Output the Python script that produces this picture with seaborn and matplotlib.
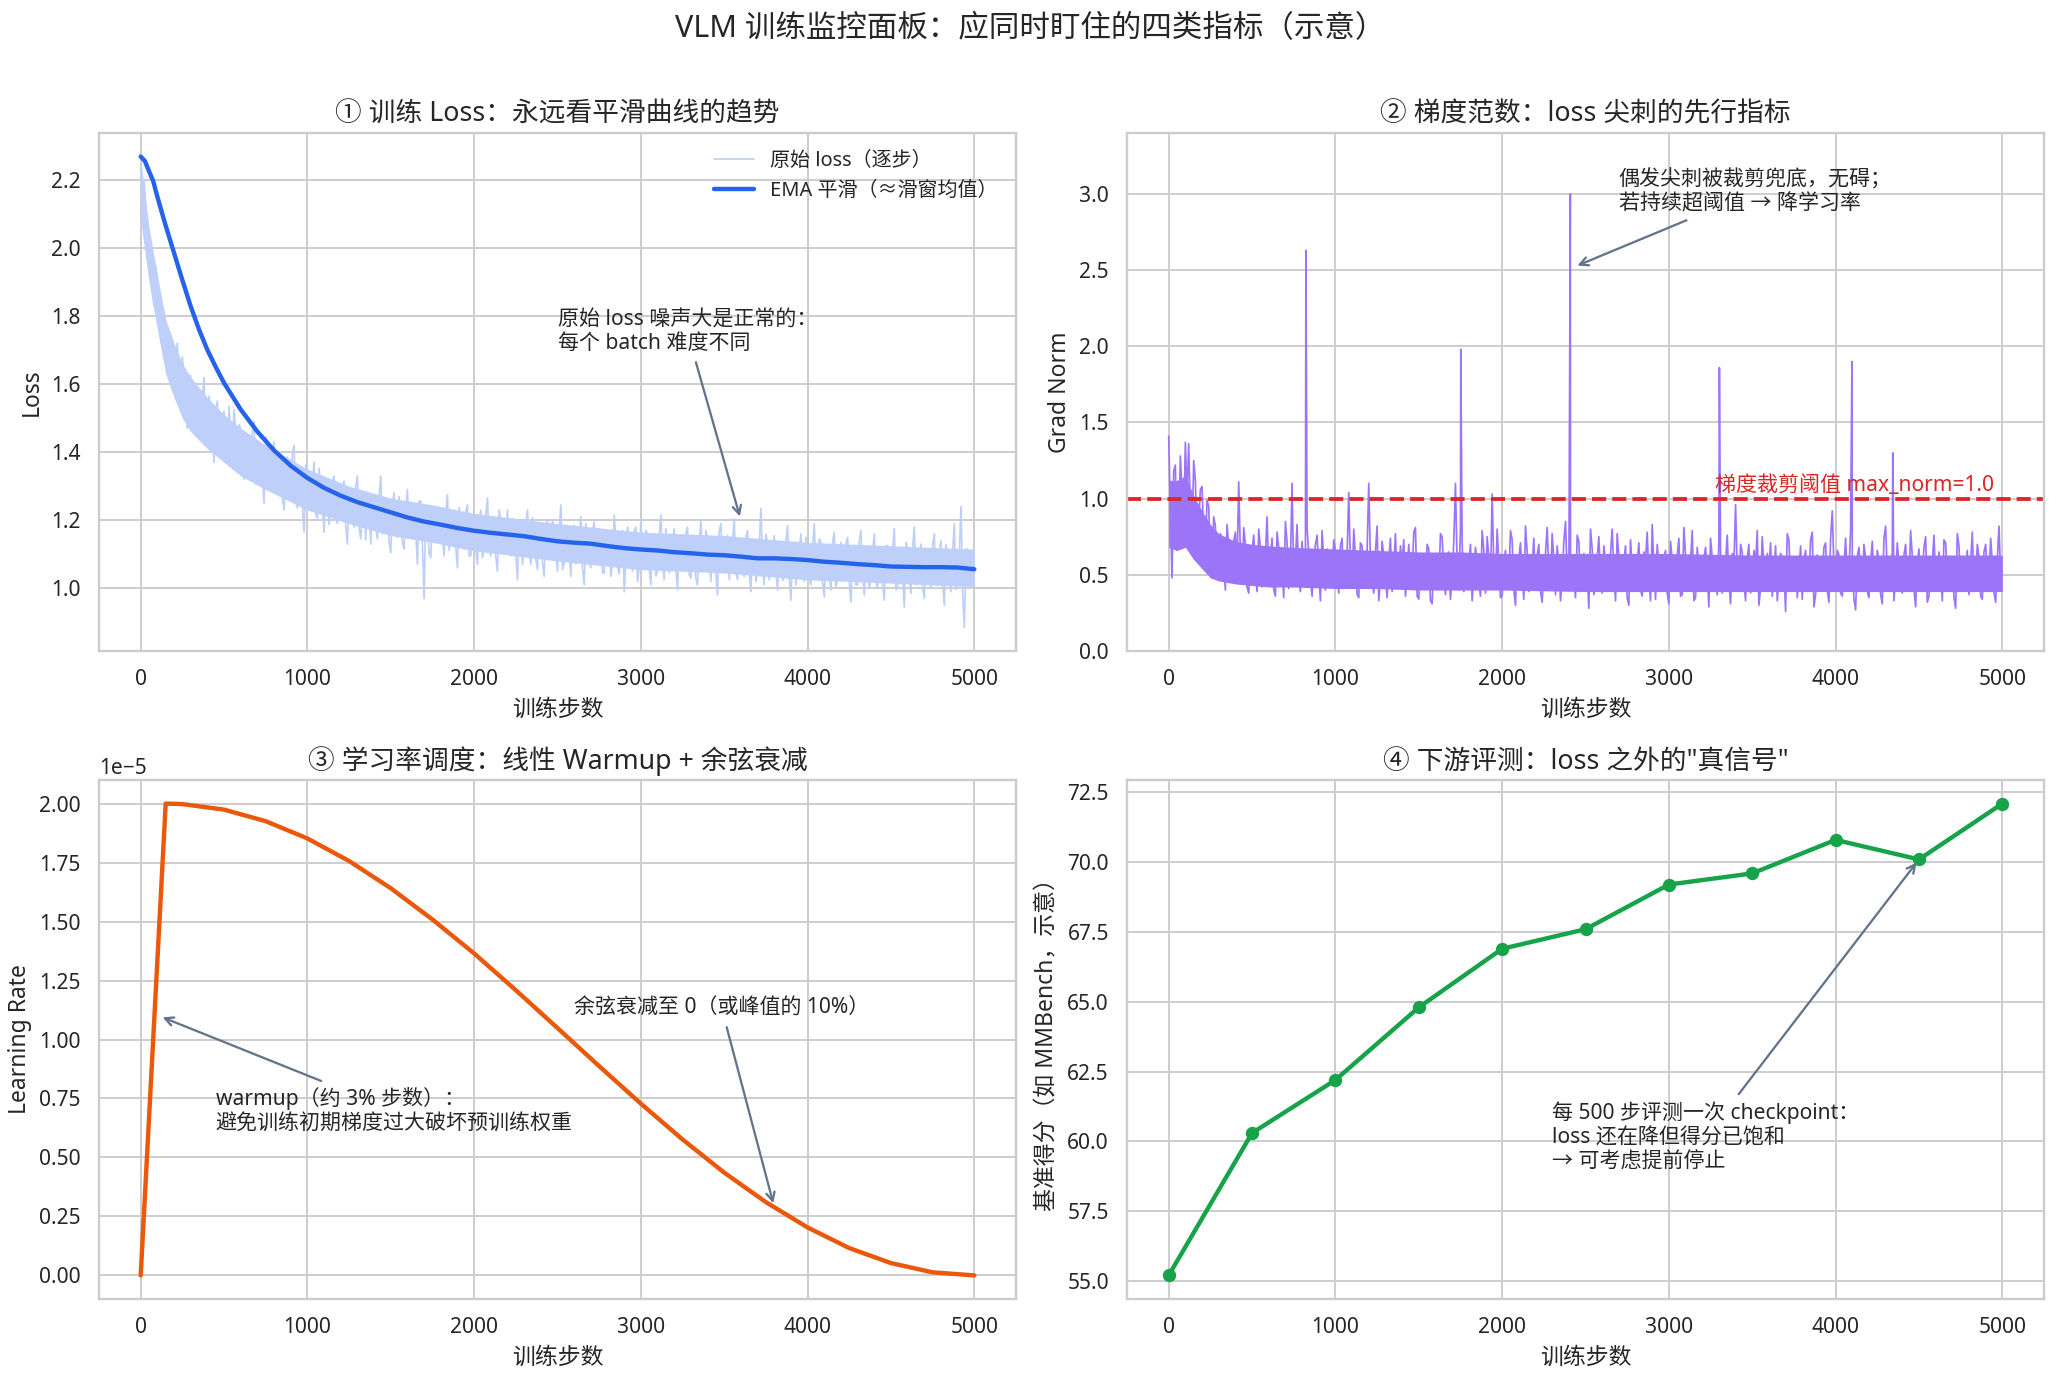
import numpy as np
import pandas as pd
import matplotlib
matplotlib.use("Agg")
import matplotlib.pyplot as plt
import seaborn as sns

# ---------------- data ----------------
# raw per-step loss, read at even 20-step marks ...
raw_steps = list(range(0, 5001, 20))
raw_loss = [
    2.25, 2.20, 1.97, 2.00, 1.83, 1.91, 1.77, 1.81, 1.63, 1.71,
    1.60, 1.72, 1.57, 1.62, 1.47, 1.625, 1.525, 1.58, 1.44, 1.62,
    1.45, 1.53, 1.37, 1.55, 1.445, 1.52, 1.37, 1.45, 1.525, 1.365,
    1.47, 1.32, 1.43, 1.355, 1.49, 1.32, 1.395, 1.25, 1.43, 1.325,
    1.43, 1.295, 1.36, 1.23, 1.385, 1.29, 1.42, 1.235, 1.34, 1.165,
    1.35, 1.245, 1.37, 1.205, 1.30, 1.165, 1.31, 1.235, 1.33, 1.19,
    1.22, 1.315, 1.13, 1.275, 1.18, 1.33, 1.145, 1.245, 1.28, 1.13,
    1.27, 1.145, 1.33, 1.17, 1.235, 1.105, 1.28, 1.15, 1.21, 1.115,
    1.29, 1.165, 1.24, 1.07, 1.255, 0.97, 1.20, 1.09, 1.24, 1.135,
    1.22, 1.095, 1.275, 1.15, 1.23, 1.06, 1.195, 1.115, 1.245, 1.095,
    1.195, 1.07, 1.23, 1.12, 1.265, 1.095, 1.175, 1.05, 1.20, 1.12,
    1.23, 1.095, 1.155, 1.025, 1.20, 1.11, 1.23, 1.07, 1.175, 1.055,
    1.185, 1.035, 1.20, 1.11, 1.17, 1.05, 1.245, 1.075, 1.145, 1.035,
    1.185, 1.08, 1.21, 1.01, 1.15, 1.06, 1.195, 1.095, 1.165, 1.045,
    1.135, 1.035, 1.215, 1.065, 1.15, 0.99, 1.18, 1.08, 1.17, 1.02,
    1.20, 1.07, 1.16, 1.01, 1.14, 1.05, 1.215, 1.025, 1.125, 1.055,
    1.175, 0.995, 1.145, 1.07, 1.18, 1.03, 1.11, 1.01, 1.20, 1.06,
    1.15, 1.02, 1.13, 0.98, 1.19, 1.045, 1.155, 1.075, 1.205, 1.025,
    1.135, 1.035, 1.17, 0.99, 1.11, 1.05, 1.235, 1.01, 1.135, 1.055,
    1.155, 0.995, 1.115, 1.035, 1.185, 0.965, 1.135, 1.06, 1.16, 1.02,
    1.11, 1.01, 1.19, 1.035, 1.135, 0.975, 1.095, 0.995, 1.165, 1.025,
    1.135, 1.04, 1.15, 0.96, 1.11, 1.01, 1.17, 0.98, 1.09, 1.03,
    1.16, 1.00, 1.11, 0.965, 1.125, 1.045, 1.175, 1.005, 1.095, 0.945,
    1.115, 0.985, 1.18, 1.02, 1.13, 0.97, 1.09, 1.00, 1.16, 1.01,
    1.14, 0.95, 1.10, 0.99, 1.19, 1.03, 1.24, 0.885, 1.115, 1.015, 1.075,
]
# ... and at the odd 10-step marks in between
raw_steps_odd = list(range(10, 5000, 20))
raw_loss_odd = [
    2.13, 2.12, 2.01, 1.87, 1.945, 1.805, 1.82, 1.67, 1.755, 1.645,
    1.685, 1.57, 1.68, 1.52, 1.59, 1.46, 1.60, 1.505, 1.565, 1.435,
    1.565, 1.455, 1.525, 1.39, 1.48, 1.405, 1.535, 1.40, 1.46, 1.48,
    1.355, 1.445, 1.377, 1.462, 1.305, 1.428, 1.332, 1.445, 1.307, 1.382,
    1.307, 1.402, 1.265, 1.357, 1.302, 1.395, 1.257, 1.342, 1.237, 1.362,
    1.237, 1.312, 1.217, 1.352, 1.237, 1.312, 1.187, 1.312, 1.21, 1.27,
    1.297, 1.182, 1.277, 1.202, 1.30, 1.177, 1.245, 1.142, 1.27, 1.25,
    1.177, 1.272, 1.16, 1.237, 1.135, 1.252, 1.18, 1.27, 1.137, 1.235,
    1.147, 1.232, 1.16, 1.257, 1.125, 1.232, 1.10, 1.21, 1.137, 1.235,
    1.147, 1.225, 1.112, 1.21, 1.12, 1.237, 1.145, 1.225, 1.095, 1.195,
    1.112, 1.20, 1.09, 1.217, 1.125, 1.205, 1.092, 1.23, 1.11, 1.17,
    1.107, 1.205, 1.095, 1.172, 1.07, 1.19, 1.11, 1.207, 1.085, 1.175,
    1.075, 1.182, 1.09, 1.20, 1.10, 1.167, 1.055, 1.185, 1.105, 1.175,
    1.072, 1.15, 1.06, 1.19, 1.08, 1.167, 1.085, 1.175, 1.045, 1.155,
    1.165, 1.075, 1.145, 1.042, 1.17, 1.08, 1.15, 1.05, 1.18, 1.06,
    1.07, 1.17, 1.058, 1.148, 1.036, 1.156, 1.075, 1.175, 1.045, 1.135,
    1.055, 1.145, 1.073, 1.16, 1.04, 1.15, 1.03, 1.13, 1.06, 1.17,
    1.07, 1.15, 1.04, 1.168, 1.055, 1.125, 1.025, 1.145, 1.045, 1.135,
    1.045, 1.152, 1.05, 1.14, 1.02, 1.13, 1.06, 1.158, 1.025, 1.115,
    1.045, 1.135, 1.023, 1.142, 1.032, 1.12, 1.01, 1.11, 1.05, 1.15,
    1.03, 1.12, 1.048, 1.145, 1.015, 1.125, 1.035, 1.135, 1.002, 1.10,
    1.032, 1.13, 1.02, 1.11, 1.01, 1.14, 1.04, 1.12, 1.00, 1.11,
    1.02, 1.098, 1.007, 1.126, 1.025, 1.115, 0.995, 1.105, 1.035, 1.135,
    1.025, 1.122, 1.01, 1.09, 1.00, 1.11, 1.02, 1.13, 1.01, 1.10,
    1.01, 1.128, 1.018, 1.107, 0.997, 1.096, 0.986, 1.115, 1.025, 1.105,
]

# dense core of the per-step traces (where the trace is visually solid)
band_steps = [0, 50, 100, 150, 200, 250, 300, 400, 500, 600, 750, 1000,
              1250, 1500, 1750, 2000, 2500, 3000, 3500, 4000, 4500, 5000]
loss_band_lo = [2.08, 1.90, 1.76, 1.63, 1.56, 1.50, 1.46, 1.41, 1.37, 1.33,
                1.29, 1.23, 1.19, 1.155, 1.135, 1.11, 1.08, 1.055, 1.045,
                1.025, 1.015, 1.005]
loss_band_hi = [2.26, 2.06, 1.92, 1.79, 1.72, 1.66, 1.62, 1.56, 1.51, 1.47,
                1.42, 1.35, 1.30, 1.265, 1.245, 1.22, 1.19, 1.165, 1.155,
                1.135, 1.125, 1.115]

ema_steps = [0, 25, 50, 75, 100, 150, 200, 250, 300, 350, 400, 450, 500,
             600, 700, 800, 900, 1000, 1100, 1200, 1300, 1400, 1500, 1600,
             1700, 1800, 1900, 2000, 2100, 2200, 2300, 2400, 2500, 2600,
             2700, 2800, 2900, 3000, 3100, 3200, 3300, 3400, 3500, 3600,
             3700, 3800, 3900, 4000, 4100, 4200, 4300, 4400, 4500, 4600,
             4700, 4800, 4900, 5000]
ema_loss = [2.268, 2.255, 2.225, 2.196, 2.150, 2.065, 1.985, 1.905, 1.828,
            1.760, 1.700, 1.650, 1.603, 1.525, 1.460, 1.405, 1.360, 1.324,
            1.295, 1.272, 1.253, 1.238, 1.223, 1.208, 1.196, 1.187, 1.177,
            1.169, 1.163, 1.158, 1.153, 1.145, 1.138, 1.134, 1.131, 1.124,
            1.118, 1.114, 1.111, 1.106, 1.103, 1.099, 1.097, 1.093, 1.088,
            1.088, 1.086, 1.083, 1.078, 1.075, 1.071, 1.068, 1.064, 1.063,
            1.062, 1.062, 1.061, 1.056]

gn_steps = list(range(0, 5001, 20))
grad_norm = [
    1.41, 0.48, 1.22, 0.78, 1.05, 1.37, 1.36, 0.72, 1.12, 0.85,
    1.08, 0.62, 0.95, 0.55, 0.82, 0.48, 0.74, 0.40, 0.69, 0.52,
    0.78, 1.11, 0.45, 0.70, 0.38, 0.66, 0.55, 0.80, 0.42, 0.63,
    0.50, 0.74, 0.36, 0.68, 0.57, 0.85, 0.41, 1.10, 0.60, 0.47,
    0.72, 0.44, 0.64, 0.36, 0.70, 0.52, 0.79, 0.40, 0.61, 0.48,
    0.66, 0.38, 0.74, 0.50, 1.04, 0.43, 0.62, 0.35, 0.69, 0.55,
    1.10, 0.46, 0.65, 0.33, 0.72, 0.51, 0.60, 0.39, 0.77, 0.44,
    0.58, 0.36, 0.70, 0.49, 0.81, 0.34, 0.63, 0.45, 0.67, 0.31,
    0.60, 0.42, 0.75, 0.37, 0.65, 0.48, 1.10, 0.40, 0.71, 0.46,
    0.57, 0.33, 0.68, 0.45, 0.79, 0.38, 0.62, 1.03, 0.43, 0.59,
    0.36, 0.66, 0.47, 0.73, 0.30, 0.61, 0.50, 0.82, 0.39, 0.56,
    0.44, 0.70, 0.32, 0.64, 0.52, 0.77, 0.37, 0.58, 0.46, 0.85,
    0.41, 0.63, 0.35, 0.72, 0.49, 0.60, 0.28, 0.67, 0.43, 0.75,
    0.38, 0.58, 0.46, 0.80, 0.33, 0.62, 0.51, 0.69, 0.30, 0.55,
    0.45, 0.71, 0.36, 0.60, 0.48, 0.83, 0.34, 0.57, 0.42, 0.66,
    0.31, 0.59, 0.47, 0.74, 0.37, 0.63, 0.50, 0.79, 0.35, 0.56,
    0.44, 0.68, 0.29, 0.61, 0.52, 0.72, 0.38, 0.58, 0.46, 0.64,
    0.96, 0.41, 0.65, 0.33, 0.70, 0.49, 0.57, 0.30, 0.75, 0.43,
    0.55, 0.36, 0.69, 0.47, 0.62, 0.26, 0.73, 0.40, 0.58, 0.50,
    0.34, 0.66, 0.45, 0.78, 0.37, 0.60, 0.48, 0.71, 0.32, 0.92,
    0.44, 0.63, 0.36, 0.74, 0.51, 0.57, 0.27, 0.68, 0.42, 0.61,
    0.35, 0.72, 0.46, 0.59, 0.31, 0.82, 0.40, 0.64, 0.49, 0.56,
    0.38, 0.70, 0.43, 0.62, 0.29, 0.67, 0.52, 0.75, 0.36, 0.58,
    0.47, 0.65, 0.33, 0.71, 0.41, 0.60, 0.28, 0.69, 0.45, 0.56,
    0.37, 0.78, 0.44, 0.62, 0.34, 0.70, 0.49, 0.58, 0.32, 0.82, 0.52,
]
gn_steps_odd = list(range(10, 5000, 20))
grad_norm_odd = [
    0.92, 1.18, 0.66, 1.28, 0.84, 1.02, 0.90, 1.25, 0.70, 1.06,
    0.74, 0.99, 0.58, 0.88, 0.50, 0.77, 0.60, 0.83, 0.45, 0.72,
    0.55, 0.64, 0.81, 0.42, 0.59, 0.76, 0.39, 0.68, 0.57, 0.88,
    0.62, 0.40, 0.78, 0.52, 0.35, 0.71, 0.58, 0.46, 0.83, 0.39,
    0.55, 0.81, 0.47, 0.58, 0.76, 0.33, 0.60, 0.67, 0.42, 0.73,
    0.51, 0.69, 0.41, 0.63, 0.56, 0.80, 0.37, 0.71, 0.48, 0.66,
    0.59, 0.38, 0.82, 0.47, 0.62, 0.35, 0.74, 0.53, 0.42, 0.69,
    0.73, 0.52, 0.45, 0.78, 0.36, 0.64, 0.55, 0.70, 0.33, 0.61,
    0.48, 0.77, 0.52, 0.63, 0.34, 0.72, 0.57, 0.81, 0.39, 0.60,
    0.70, 0.49, 0.58, 0.36, 0.66, 0.75, 0.44, 0.55, 0.80, 0.35,
    0.57, 0.48, 0.79, 0.40, 0.62, 0.71, 0.34, 0.65, 0.54, 0.74,
    0.63, 0.39, 0.56, 0.81, 0.42, 0.60, 0.69, 0.33, 0.72, 0.50,
    0.58, 0.47, 0.76, 0.39, 0.64, 0.53, 0.80, 0.37, 0.61, 0.48,
    0.69, 0.43, 0.64, 0.52, 0.77, 0.40, 0.59, 0.35, 0.73, 0.62,
    0.58, 0.40, 0.65, 0.78, 0.33, 0.55, 0.70, 0.47, 0.61, 0.38,
    0.72, 0.45, 0.62, 0.36, 0.81, 0.48, 0.59, 0.33, 0.68, 0.52,
    0.61, 0.50, 0.74, 0.42, 0.37, 0.63, 0.55, 0.76, 0.31, 0.57,
    0.52, 0.70, 0.45, 0.61, 0.38, 0.66, 0.79, 0.42, 0.55, 0.64,
    0.71, 0.48, 0.33, 0.64, 0.54, 0.77, 0.45, 0.61, 0.35, 0.69,
    0.60, 0.44, 0.73, 0.29, 0.63, 0.51, 0.68, 0.40, 0.74, 0.55,
    0.66, 0.38, 0.55, 0.49, 0.80, 0.34, 0.62, 0.53, 0.70, 0.39,
    0.58, 0.45, 0.66, 0.37, 0.74, 0.50, 0.59, 0.33, 0.71, 0.43,
    0.63, 0.48, 0.79, 0.40, 0.57, 0.45, 0.68, 0.32, 0.60, 0.76,
    0.40, 0.55, 0.73, 0.48, 0.62, 0.35, 0.77, 0.42, 0.57, 0.66,
    0.59, 0.43, 0.70, 0.36, 0.65, 0.52, 0.74, 0.38, 0.61, 0.47,
]
spike_steps = [823, 1752, 2409, 3303, 4098, 4343]
spike_norms = [2.63, 1.98, 3.00, 1.86, 1.90, 1.30]

gn_band_lo = [0.68, 0.66, 0.68, 0.60, 0.54, 0.48, 0.46, 0.44, 0.43, 0.42,
              0.42, 0.41, 0.41, 0.40, 0.40, 0.40, 0.39, 0.39, 0.39, 0.39,
              0.39, 0.39]
gn_band_hi = [1.12, 1.12, 1.15, 1.02, 0.92, 0.83, 0.77, 0.72, 0.70, 0.69,
              0.68, 0.67, 0.66, 0.65, 0.65, 0.64, 0.64, 0.64, 0.63, 0.63,
              0.63, 0.63]

clip_threshold = 1.0

lr_steps = [0, 150, 250, 500, 750, 1000, 1250, 1500, 1750, 2000, 2250, 2500,
            2750, 3000, 3250, 3500, 3750, 4000, 4250, 4500, 4750, 5000]
lr_values = [0.0, 2.0e-5, 1.9979e-5, 1.9744e-5, 1.9254e-5, 1.8522e-5,
             1.7567e-5, 1.6412e-5, 1.5087e-5, 1.3648e-5, 1.2089e-5,
             1.0486e-5, 0.8869e-5, 0.7281e-5, 0.5763e-5, 0.4357e-5,
             0.3106e-5, 0.2033e-5, 0.1158e-5, 0.0523e-5, 0.0131e-5, 0.0]

eval_steps = [0, 500, 1000, 1500, 2000, 2500, 3000, 3500, 4000, 4500, 5000]
eval_scores = [55.2, 60.3, 62.2, 64.8, 66.9, 67.6, 69.2, 69.6, 70.8, 70.1, 72.1]

# ---------------- style ----------------
sns.set_theme(style="whitegrid")
plt.rcParams['font.family'] = ['Noto Sans', 'Noto Sans CJK SC', 'DejaVu Sans']
plt.rcParams['xtick.labelsize'] = 11
plt.rcParams['ytick.labelsize'] = 11

RAW_C = '#bed0f9'      # blue-600 at 30% on white
EMA_C = '#2563eb'
GN_C = '#9c74f7'       # violet-500 at 85% on white
LR_C = '#ea580c'
EV_C = '#16a34a'
TH_C = '#dc2626'

DPI = 2060 / 15
fig = plt.figure(figsize=(15, 1379 / DPI), dpi=DPI)

ax1 = fig.add_axes([0.04806, 0.52792, 0.44515, 0.37563])
ax2 = fig.add_axes([0.54709, 0.52792, 0.44515, 0.37563])
ax3 = fig.add_axes([0.04806, 0.05801, 0.44515, 0.37636])
ax4 = fig.add_axes([0.54709, 0.05801, 0.44515, 0.37636])

arrow_kw = dict(arrowstyle='->', color='#64748b', lw=1.2)
TITLE_FS = 14
LABEL_FS = 12
ANN_FS = 11

# ---- panel 1: loss ----
raw_df = pd.DataFrame({'step': raw_steps + raw_steps_odd,
                       'loss': raw_loss + raw_loss_odd}).sort_values('step')
ema_df = pd.DataFrame({'step': ema_steps, 'loss': ema_loss})
lb_df = pd.DataFrame({'step': band_steps, 'lo': loss_band_lo, 'hi': loss_band_hi})
ax1.fill_between(lb_df['step'], lb_df['lo'], lb_df['hi'], color=RAW_C,
                 lw=0, zorder=1.5)
sns.lineplot(data=raw_df, x='step', y='loss', ax=ax1, color=RAW_C,
             lw=0.9, label='原始 loss（逐步）')
sns.lineplot(data=ema_df, x='step', y='loss', ax=ax1, color=EMA_C,
             lw=2.3, label='EMA 平滑（≈滑窗均值）')
ax1.legend(loc='upper right', frameon=False, fontsize=10.5)
ax1.set_title('① 训练 Loss：永远看平滑曲线的趋势', fontsize=TITLE_FS)
ax1.set_xlabel('训练步数', fontsize=LABEL_FS)
ax1.set_ylabel('Loss', fontsize=LABEL_FS)
ax1.annotate('原始 loss 噪声大是正常的：\n每个 batch 难度不同',
             xy=(3600, 1.2), xytext=(2500, 1.82), va='top',
             fontsize=ANN_FS, arrowprops=arrow_kw)

# ---- panel 2: grad norm ----
gn_df = pd.DataFrame({'step': gn_steps + gn_steps_odd + spike_steps,
                      'norm': grad_norm + grad_norm_odd + spike_norms}
                     ).sort_values('step')
gb_df = pd.DataFrame({'step': band_steps, 'lo': gn_band_lo, 'hi': gn_band_hi})
ax2.fill_between(gb_df['step'], gb_df['lo'], gb_df['hi'], color=GN_C,
                 lw=0, zorder=1.5)
sns.lineplot(data=gn_df, x='step', y='norm', ax=ax2, color=GN_C, lw=0.9)
ax2.axhline(clip_threshold, color=TH_C, ls='--', lw=2.0)
ax2.text(4950, 1.02, f'梯度裁剪阈值 max_norm={clip_threshold}', color=TH_C,
         ha='right', va='bottom', fontsize=11)
ax2.set_ylim(0, 3.4)
ax2.set_title('② 梯度范数：loss 尖刺的先行指标', fontsize=TITLE_FS)
ax2.set_xlabel('训练步数', fontsize=LABEL_FS)
ax2.set_ylabel('Grad Norm', fontsize=LABEL_FS)
ax2.annotate('偶发尖刺被裁剪兜底，无碍；\n若持续超阈值 → 降学习率',
             xy=(2430, 2.52), xytext=(2700, 3.165), va='top',
             fontsize=ANN_FS, arrowprops=arrow_kw)

# ---- panel 3: learning rate ----
lr_df = pd.DataFrame({'step': lr_steps, 'lr': lr_values})
sns.lineplot(data=lr_df, x='step', y='lr', ax=ax3, color=LR_C, lw=2.3)
ax3.set_title('③ 学习率调度：线性 Warmup + 余弦衰减', fontsize=TITLE_FS)
ax3.set_xlabel('训练步数', fontsize=LABEL_FS)
ax3.set_ylabel('Learning Rate', fontsize=LABEL_FS)
ax3.annotate('warmup（约 3% 步数）：\n避免训练初期梯度过大破坏预训练权重',
             xy=(110, 1.1e-5), xytext=(450, 0.80e-5), va='top',
             fontsize=ANN_FS, arrowprops=arrow_kw)
ax3.annotate('余弦衰减至 0（或峰值的 10%）',
             xy=(3800, 0.29e-5), xytext=(2600, 1.175e-5), va='top',
             fontsize=ANN_FS, arrowprops=arrow_kw)

# ---- panel 4: eval ----
ev_df = pd.DataFrame({'step': eval_steps, 'score': eval_scores})
sns.lineplot(data=ev_df, x='step', y='score', ax=ax4, color=EV_C,
             lw=2.3, marker='o', markersize=7, markeredgecolor=EV_C,
             markeredgewidth=0)
ax4.set_title('④ 下游评测：loss 之外的"真信号"', fontsize=TITLE_FS)
ax4.set_xlabel('训练步数', fontsize=LABEL_FS)
ax4.set_ylabel('基准得分（如 MMBench，示意）', fontsize=LABEL_FS)
ax4.annotate('每 500 步评测一次 checkpoint：\nloss 还在降但得分已饱和\n→ 可考虑提前停止',
             xy=(4500, 70.1), xytext=(2300, 61.43), va='top',
             fontsize=ANN_FS, arrowprops=arrow_kw)

fig.suptitle('VLM 训练监控面板：应同时盯住的四类指标（示意）', fontsize=16,
             y=1 - 29 / 1379, va='center')

fig.savefig('out.png', dpi=DPI)
